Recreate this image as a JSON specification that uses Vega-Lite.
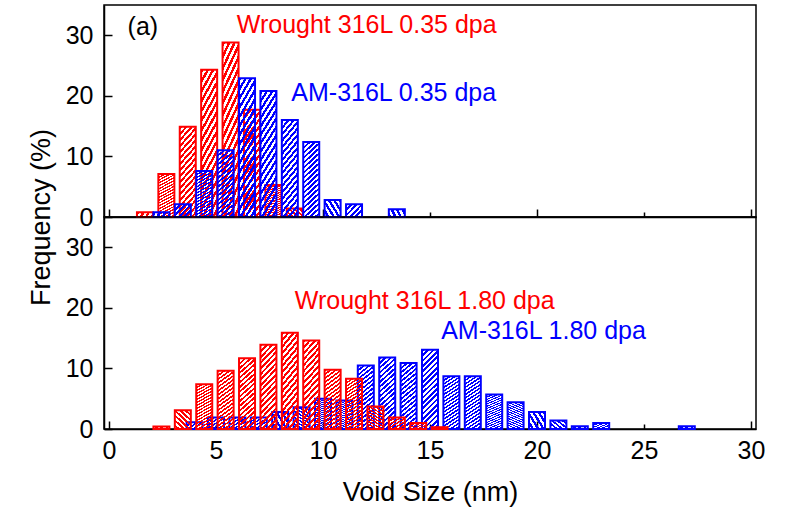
{
  "$schema": "https://vega.github.io/schema/vega-lite/v6.json",
  "padding": {"left": 26, "top": 4, "right": 0, "bottom": 5},
  "spacing": 0,
  "bounds": "flush",
  "datasets": {
    "bars": [
      {"panel": "0.35 dpa", "series": "Wrought 316L", "size": 1.68, "freq": 0.8},
      {"panel": "0.35 dpa", "series": "Wrought 316L", "size": 2.68, "freq": 7.1},
      {"panel": "0.35 dpa", "series": "Wrought 316L", "size": 3.68, "freq": 14.9},
      {"panel": "0.35 dpa", "series": "Wrought 316L", "size": 4.68, "freq": 24.3},
      {"panel": "0.35 dpa", "series": "Wrought 316L", "size": 5.68, "freq": 28.8},
      {"panel": "0.35 dpa", "series": "Wrought 316L", "size": 6.68, "freq": 17.7},
      {"panel": "0.35 dpa", "series": "Wrought 316L", "size": 7.68, "freq": 5.3},
      {"panel": "0.35 dpa", "series": "Wrought 316L", "size": 8.68, "freq": 1.4},
      {"panel": "0.35 dpa", "series": "AM-316L", "size": 2.45, "freq": 0.8},
      {"panel": "0.35 dpa", "series": "AM-316L", "size": 3.45, "freq": 2.1},
      {"panel": "0.35 dpa", "series": "AM-316L", "size": 4.45, "freq": 7.6},
      {"panel": "0.35 dpa", "series": "AM-316L", "size": 5.45, "freq": 11.0},
      {"panel": "0.35 dpa", "series": "AM-316L", "size": 6.45, "freq": 22.9},
      {"panel": "0.35 dpa", "series": "AM-316L", "size": 7.45, "freq": 20.8},
      {"panel": "0.35 dpa", "series": "AM-316L", "size": 8.45, "freq": 16.0},
      {"panel": "0.35 dpa", "series": "AM-316L", "size": 9.45, "freq": 12.4},
      {"panel": "0.35 dpa", "series": "AM-316L", "size": 10.45, "freq": 2.8},
      {"panel": "0.35 dpa", "series": "AM-316L", "size": 11.45, "freq": 2.1},
      {"panel": "0.35 dpa", "series": "AM-316L", "size": 13.45, "freq": 1.3},
      {"panel": "1.80 dpa", "series": "Wrought 316L", "size": 2.45, "freq": 0.4},
      {"panel": "1.80 dpa", "series": "Wrought 316L", "size": 3.45, "freq": 3.1},
      {"panel": "1.80 dpa", "series": "Wrought 316L", "size": 4.45, "freq": 7.4},
      {"panel": "1.80 dpa", "series": "Wrought 316L", "size": 5.45, "freq": 9.6},
      {"panel": "1.80 dpa", "series": "Wrought 316L", "size": 6.45, "freq": 11.7},
      {"panel": "1.80 dpa", "series": "Wrought 316L", "size": 7.45, "freq": 13.9},
      {"panel": "1.80 dpa", "series": "Wrought 316L", "size": 8.45, "freq": 15.9},
      {"panel": "1.80 dpa", "series": "Wrought 316L", "size": 9.45, "freq": 14.6},
      {"panel": "1.80 dpa", "series": "Wrought 316L", "size": 10.45, "freq": 9.8},
      {"panel": "1.80 dpa", "series": "Wrought 316L", "size": 11.45, "freq": 8.3},
      {"panel": "1.80 dpa", "series": "Wrought 316L", "size": 12.45, "freq": 3.7},
      {"panel": "1.80 dpa", "series": "Wrought 316L", "size": 13.45, "freq": 1.9},
      {"panel": "1.80 dpa", "series": "Wrought 316L", "size": 14.45, "freq": 1.0},
      {"panel": "1.80 dpa", "series": "Wrought 316L", "size": 15.45, "freq": 0.3},
      {"panel": "1.80 dpa", "series": "AM-316L", "size": 4, "freq": 1.1},
      {"panel": "1.80 dpa", "series": "AM-316L", "size": 5, "freq": 1.9},
      {"panel": "1.80 dpa", "series": "AM-316L", "size": 6, "freq": 1.9},
      {"panel": "1.80 dpa", "series": "AM-316L", "size": 7, "freq": 1.9},
      {"panel": "1.80 dpa", "series": "AM-316L", "size": 8, "freq": 2.8},
      {"panel": "1.80 dpa", "series": "AM-316L", "size": 9, "freq": 3.6},
      {"panel": "1.80 dpa", "series": "AM-316L", "size": 10, "freq": 5.0},
      {"panel": "1.80 dpa", "series": "AM-316L", "size": 11, "freq": 4.7},
      {"panel": "1.80 dpa", "series": "AM-316L", "size": 12, "freq": 10.5},
      {"panel": "1.80 dpa", "series": "AM-316L", "size": 13, "freq": 11.8},
      {"panel": "1.80 dpa", "series": "AM-316L", "size": 14, "freq": 10.9},
      {"panel": "1.80 dpa", "series": "AM-316L", "size": 15, "freq": 13.1},
      {"panel": "1.80 dpa", "series": "AM-316L", "size": 16, "freq": 8.7},
      {"panel": "1.80 dpa", "series": "AM-316L", "size": 17, "freq": 8.7},
      {"panel": "1.80 dpa", "series": "AM-316L", "size": 18, "freq": 5.7},
      {"panel": "1.80 dpa", "series": "AM-316L", "size": 19, "freq": 4.4},
      {"panel": "1.80 dpa", "series": "AM-316L", "size": 20, "freq": 2.8},
      {"panel": "1.80 dpa", "series": "AM-316L", "size": 21, "freq": 1.4},
      {"panel": "1.80 dpa", "series": "AM-316L", "size": 22, "freq": 0.45},
      {"panel": "1.80 dpa", "series": "AM-316L", "size": 23, "freq": 1.0},
      {"panel": "1.80 dpa", "series": "AM-316L", "size": 27, "freq": 0.45}
    ]
  },
  "config": {
    "font": "Liberation Sans",
    "view": {"stroke": "#000000", "strokeWidth": 1.5},
    "axis": {
      "grid": false,
      "domainColor": "#000000",
      "domainWidth": 1.5,
      "tickColor": "#000000",
      "tickWidth": 1.5,
      "labelColor": "#000000",
      "labelFont": "Liberation Sans",
      "labelFontSize": 25,
      "titleFont": "Liberation Sans",
      "titleFontSize": 27,
      "titleFontWeight": "normal",
      "titleColor": "#000000",
      "labelOverlap": false
    }
  },
  "vconcat": [
    {
      "width": 652,
      "height": 212,
      "layer": [
        {
          "data": {"name": "bars"},
          "transform": [{"filter": "datum.panel === '0.35 dpa' && datum.series === 'Wrought 316L'"}],
          "mark": {
            "type": "bar", "orient": "vertical", "width": 16, "stroke": "#ff0000", "strokeWidth": 2,
            "fill": {"gradient": "linear", "x1": 0, "y1": 0, "x2": 0.2308, "y2": 1.1538, "stops": [
              {"offset": 0, "color": "#ff0000"}, {"offset": 0.0278, "color": "#ff0000"}, {"offset": 0.0278, "color": "rgba(255,0,0,0)"}, {"offset": 0.0556, "color": "rgba(255,0,0,0)"},
              {"offset": 0.0556, "color": "#ff0000"}, {"offset": 0.0833, "color": "#ff0000"}, {"offset": 0.0833, "color": "rgba(255,0,0,0)"}, {"offset": 0.1111, "color": "rgba(255,0,0,0)"},
              {"offset": 0.1111, "color": "#ff0000"}, {"offset": 0.1389, "color": "#ff0000"}, {"offset": 0.1389, "color": "rgba(255,0,0,0)"}, {"offset": 0.1667, "color": "rgba(255,0,0,0)"},
              {"offset": 0.1667, "color": "#ff0000"}, {"offset": 0.1944, "color": "#ff0000"}, {"offset": 0.1944, "color": "rgba(255,0,0,0)"}, {"offset": 0.2222, "color": "rgba(255,0,0,0)"},
              {"offset": 0.2222, "color": "#ff0000"}, {"offset": 0.25, "color": "#ff0000"}, {"offset": 0.25, "color": "rgba(255,0,0,0)"}, {"offset": 0.2778, "color": "rgba(255,0,0,0)"},
              {"offset": 0.2778, "color": "#ff0000"}, {"offset": 0.3056, "color": "#ff0000"}, {"offset": 0.3056, "color": "rgba(255,0,0,0)"}, {"offset": 0.3333, "color": "rgba(255,0,0,0)"},
              {"offset": 0.3333, "color": "#ff0000"}, {"offset": 0.3611, "color": "#ff0000"}, {"offset": 0.3611, "color": "rgba(255,0,0,0)"}, {"offset": 0.3889, "color": "rgba(255,0,0,0)"},
              {"offset": 0.3889, "color": "#ff0000"}, {"offset": 0.4167, "color": "#ff0000"}, {"offset": 0.4167, "color": "rgba(255,0,0,0)"}, {"offset": 0.4444, "color": "rgba(255,0,0,0)"},
              {"offset": 0.4444, "color": "#ff0000"}, {"offset": 0.4722, "color": "#ff0000"}, {"offset": 0.4722, "color": "rgba(255,0,0,0)"}, {"offset": 0.5, "color": "rgba(255,0,0,0)"},
              {"offset": 0.5, "color": "#ff0000"}, {"offset": 0.5278, "color": "#ff0000"}, {"offset": 0.5278, "color": "rgba(255,0,0,0)"}, {"offset": 0.5556, "color": "rgba(255,0,0,0)"},
              {"offset": 0.5556, "color": "#ff0000"}, {"offset": 0.5833, "color": "#ff0000"}, {"offset": 0.5833, "color": "rgba(255,0,0,0)"}, {"offset": 0.6111, "color": "rgba(255,0,0,0)"},
              {"offset": 0.6111, "color": "#ff0000"}, {"offset": 0.6389, "color": "#ff0000"}, {"offset": 0.6389, "color": "rgba(255,0,0,0)"}, {"offset": 0.6667, "color": "rgba(255,0,0,0)"},
              {"offset": 0.6667, "color": "#ff0000"}, {"offset": 0.6944, "color": "#ff0000"}, {"offset": 0.6944, "color": "rgba(255,0,0,0)"}, {"offset": 0.7222, "color": "rgba(255,0,0,0)"},
              {"offset": 0.7222, "color": "#ff0000"}, {"offset": 0.75, "color": "#ff0000"}, {"offset": 0.75, "color": "rgba(255,0,0,0)"}, {"offset": 0.7778, "color": "rgba(255,0,0,0)"},
              {"offset": 0.7778, "color": "#ff0000"}, {"offset": 0.8056, "color": "#ff0000"}, {"offset": 0.8056, "color": "rgba(255,0,0,0)"}, {"offset": 0.8333, "color": "rgba(255,0,0,0)"},
              {"offset": 0.8333, "color": "#ff0000"}, {"offset": 0.8611, "color": "#ff0000"}, {"offset": 0.8611, "color": "rgba(255,0,0,0)"}, {"offset": 0.8889, "color": "rgba(255,0,0,0)"},
              {"offset": 0.8889, "color": "#ff0000"}, {"offset": 0.9167, "color": "#ff0000"}, {"offset": 0.9167, "color": "rgba(255,0,0,0)"}, {"offset": 0.9444, "color": "rgba(255,0,0,0)"},
              {"offset": 0.9444, "color": "#ff0000"}, {"offset": 0.9722, "color": "#ff0000"}, {"offset": 0.9722, "color": "rgba(255,0,0,0)"}, {"offset": 1, "color": "rgba(255,0,0,0)"}
            ]}
          },
          "encoding": {
            "x": {"field": "size", "type": "quantitative", "scale": {"domain": [0, 30], "nice": false},
              "axis": {"values": [0, 5, 10, 15, 20, 25, 30], "labels": false, "title": null,
                "tickSize": {"condition": {"test": "datum.value % 10 === 0", "value": -8}, "value": -5}}},
            "y": {"field": "freq", "type": "quantitative", "stack": null, "scale": {"domain": [0, 35], "nice": false},
              "axis": {"values": [0, 5, 10, 15, 20, 25, 30], "labelExpr": "datum.value % 10 === 0 ? datum.label : ''",
                "tickSize": {"condition": {"test": "datum.value % 10 === 0", "value": -8}, "value": -5},
                "labelPadding": 19, "title": "Frequency (%)", "titleX": -63, "titleY": 212,
                "titleAlign": "center", "titleBaseline": "middle"}}
          }
        },
        {
          "data": {"name": "bars"},
          "transform": [{"filter": "datum.panel === '0.35 dpa' && datum.series === 'AM-316L'"}],
          "mark": {
            "type": "bar", "orient": "vertical", "width": 16, "stroke": "#0000ff", "strokeWidth": 2,
            "fill": {"gradient": "linear", "x1": 0, "y1": 0, "x2": 0.2308, "y2": 1.1538, "stops": [
              {"offset": 0, "color": "#0000ff"}, {"offset": 0.0278, "color": "#0000ff"}, {"offset": 0.0278, "color": "rgba(0,0,255,0)"}, {"offset": 0.0556, "color": "rgba(0,0,255,0)"},
              {"offset": 0.0556, "color": "#0000ff"}, {"offset": 0.0833, "color": "#0000ff"}, {"offset": 0.0833, "color": "rgba(0,0,255,0)"}, {"offset": 0.1111, "color": "rgba(0,0,255,0)"},
              {"offset": 0.1111, "color": "#0000ff"}, {"offset": 0.1389, "color": "#0000ff"}, {"offset": 0.1389, "color": "rgba(0,0,255,0)"}, {"offset": 0.1667, "color": "rgba(0,0,255,0)"},
              {"offset": 0.1667, "color": "#0000ff"}, {"offset": 0.1944, "color": "#0000ff"}, {"offset": 0.1944, "color": "rgba(0,0,255,0)"}, {"offset": 0.2222, "color": "rgba(0,0,255,0)"},
              {"offset": 0.2222, "color": "#0000ff"}, {"offset": 0.25, "color": "#0000ff"}, {"offset": 0.25, "color": "rgba(0,0,255,0)"}, {"offset": 0.2778, "color": "rgba(0,0,255,0)"},
              {"offset": 0.2778, "color": "#0000ff"}, {"offset": 0.3056, "color": "#0000ff"}, {"offset": 0.3056, "color": "rgba(0,0,255,0)"}, {"offset": 0.3333, "color": "rgba(0,0,255,0)"},
              {"offset": 0.3333, "color": "#0000ff"}, {"offset": 0.3611, "color": "#0000ff"}, {"offset": 0.3611, "color": "rgba(0,0,255,0)"}, {"offset": 0.3889, "color": "rgba(0,0,255,0)"},
              {"offset": 0.3889, "color": "#0000ff"}, {"offset": 0.4167, "color": "#0000ff"}, {"offset": 0.4167, "color": "rgba(0,0,255,0)"}, {"offset": 0.4444, "color": "rgba(0,0,255,0)"},
              {"offset": 0.4444, "color": "#0000ff"}, {"offset": 0.4722, "color": "#0000ff"}, {"offset": 0.4722, "color": "rgba(0,0,255,0)"}, {"offset": 0.5, "color": "rgba(0,0,255,0)"},
              {"offset": 0.5, "color": "#0000ff"}, {"offset": 0.5278, "color": "#0000ff"}, {"offset": 0.5278, "color": "rgba(0,0,255,0)"}, {"offset": 0.5556, "color": "rgba(0,0,255,0)"},
              {"offset": 0.5556, "color": "#0000ff"}, {"offset": 0.5833, "color": "#0000ff"}, {"offset": 0.5833, "color": "rgba(0,0,255,0)"}, {"offset": 0.6111, "color": "rgba(0,0,255,0)"},
              {"offset": 0.6111, "color": "#0000ff"}, {"offset": 0.6389, "color": "#0000ff"}, {"offset": 0.6389, "color": "rgba(0,0,255,0)"}, {"offset": 0.6667, "color": "rgba(0,0,255,0)"},
              {"offset": 0.6667, "color": "#0000ff"}, {"offset": 0.6944, "color": "#0000ff"}, {"offset": 0.6944, "color": "rgba(0,0,255,0)"}, {"offset": 0.7222, "color": "rgba(0,0,255,0)"},
              {"offset": 0.7222, "color": "#0000ff"}, {"offset": 0.75, "color": "#0000ff"}, {"offset": 0.75, "color": "rgba(0,0,255,0)"}, {"offset": 0.7778, "color": "rgba(0,0,255,0)"},
              {"offset": 0.7778, "color": "#0000ff"}, {"offset": 0.8056, "color": "#0000ff"}, {"offset": 0.8056, "color": "rgba(0,0,255,0)"}, {"offset": 0.8333, "color": "rgba(0,0,255,0)"},
              {"offset": 0.8333, "color": "#0000ff"}, {"offset": 0.8611, "color": "#0000ff"}, {"offset": 0.8611, "color": "rgba(0,0,255,0)"}, {"offset": 0.8889, "color": "rgba(0,0,255,0)"},
              {"offset": 0.8889, "color": "#0000ff"}, {"offset": 0.9167, "color": "#0000ff"}, {"offset": 0.9167, "color": "rgba(0,0,255,0)"}, {"offset": 0.9444, "color": "rgba(0,0,255,0)"},
              {"offset": 0.9444, "color": "#0000ff"}, {"offset": 0.9722, "color": "#0000ff"}, {"offset": 0.9722, "color": "rgba(0,0,255,0)"}, {"offset": 1, "color": "rgba(0,0,255,0)"}
            ]}
          },
          "encoding": {
            "x": {"field": "size", "type": "quantitative"},
            "y": {"field": "freq", "type": "quantitative", "stack": null}
          }
        },
        {
          "data": {"values": [{}]},
          "mark": {"type": "text", "align": "left", "baseline": "middle", "font": "Liberation Sans", "fontSize": 25, "fill": "#000000"},
          "encoding": {"x": {"datum": 0.87}, "y": {"datum": 31.4}, "text": {"value": "(a)"}}
        },
        {
          "data": {"values": [{}]},
          "mark": {"type": "text", "align": "left", "baseline": "middle", "font": "Liberation Sans", "fontSize": 25, "fill": "#ff0000"},
          "encoding": {"x": {"datum": 5.97}, "y": {"datum": 31.7}, "text": {"value": "Wrought 316L 0.35 dpa"}}
        },
        {
          "data": {"values": [{}]},
          "mark": {"type": "text", "align": "left", "baseline": "middle", "font": "Liberation Sans", "fontSize": 25, "fill": "#0000ff"},
          "encoding": {"x": {"datum": 8.52}, "y": {"datum": 20.5}, "text": {"value": "AM-316L 0.35 dpa"}}
        }
      ]
    },
    {
      "width": 652,
      "height": 212,
      "layer": [
        {
          "data": {"name": "bars"},
          "transform": [{"filter": "datum.panel === '1.80 dpa' && datum.series === 'AM-316L'"}],
          "mark": {
            "type": "bar", "orient": "vertical", "width": 16, "stroke": "#0000ff", "strokeWidth": 2,
            "fill": {"gradient": "linear", "x1": 0, "y1": 0, "x2": 0.2308, "y2": 1.1538, "stops": [
              {"offset": 0, "color": "#0000ff"}, {"offset": 0.0278, "color": "#0000ff"}, {"offset": 0.0278, "color": "rgba(0,0,255,0)"}, {"offset": 0.0556, "color": "rgba(0,0,255,0)"},
              {"offset": 0.0556, "color": "#0000ff"}, {"offset": 0.0833, "color": "#0000ff"}, {"offset": 0.0833, "color": "rgba(0,0,255,0)"}, {"offset": 0.1111, "color": "rgba(0,0,255,0)"},
              {"offset": 0.1111, "color": "#0000ff"}, {"offset": 0.1389, "color": "#0000ff"}, {"offset": 0.1389, "color": "rgba(0,0,255,0)"}, {"offset": 0.1667, "color": "rgba(0,0,255,0)"},
              {"offset": 0.1667, "color": "#0000ff"}, {"offset": 0.1944, "color": "#0000ff"}, {"offset": 0.1944, "color": "rgba(0,0,255,0)"}, {"offset": 0.2222, "color": "rgba(0,0,255,0)"},
              {"offset": 0.2222, "color": "#0000ff"}, {"offset": 0.25, "color": "#0000ff"}, {"offset": 0.25, "color": "rgba(0,0,255,0)"}, {"offset": 0.2778, "color": "rgba(0,0,255,0)"},
              {"offset": 0.2778, "color": "#0000ff"}, {"offset": 0.3056, "color": "#0000ff"}, {"offset": 0.3056, "color": "rgba(0,0,255,0)"}, {"offset": 0.3333, "color": "rgba(0,0,255,0)"},
              {"offset": 0.3333, "color": "#0000ff"}, {"offset": 0.3611, "color": "#0000ff"}, {"offset": 0.3611, "color": "rgba(0,0,255,0)"}, {"offset": 0.3889, "color": "rgba(0,0,255,0)"},
              {"offset": 0.3889, "color": "#0000ff"}, {"offset": 0.4167, "color": "#0000ff"}, {"offset": 0.4167, "color": "rgba(0,0,255,0)"}, {"offset": 0.4444, "color": "rgba(0,0,255,0)"},
              {"offset": 0.4444, "color": "#0000ff"}, {"offset": 0.4722, "color": "#0000ff"}, {"offset": 0.4722, "color": "rgba(0,0,255,0)"}, {"offset": 0.5, "color": "rgba(0,0,255,0)"},
              {"offset": 0.5, "color": "#0000ff"}, {"offset": 0.5278, "color": "#0000ff"}, {"offset": 0.5278, "color": "rgba(0,0,255,0)"}, {"offset": 0.5556, "color": "rgba(0,0,255,0)"},
              {"offset": 0.5556, "color": "#0000ff"}, {"offset": 0.5833, "color": "#0000ff"}, {"offset": 0.5833, "color": "rgba(0,0,255,0)"}, {"offset": 0.6111, "color": "rgba(0,0,255,0)"},
              {"offset": 0.6111, "color": "#0000ff"}, {"offset": 0.6389, "color": "#0000ff"}, {"offset": 0.6389, "color": "rgba(0,0,255,0)"}, {"offset": 0.6667, "color": "rgba(0,0,255,0)"},
              {"offset": 0.6667, "color": "#0000ff"}, {"offset": 0.6944, "color": "#0000ff"}, {"offset": 0.6944, "color": "rgba(0,0,255,0)"}, {"offset": 0.7222, "color": "rgba(0,0,255,0)"},
              {"offset": 0.7222, "color": "#0000ff"}, {"offset": 0.75, "color": "#0000ff"}, {"offset": 0.75, "color": "rgba(0,0,255,0)"}, {"offset": 0.7778, "color": "rgba(0,0,255,0)"},
              {"offset": 0.7778, "color": "#0000ff"}, {"offset": 0.8056, "color": "#0000ff"}, {"offset": 0.8056, "color": "rgba(0,0,255,0)"}, {"offset": 0.8333, "color": "rgba(0,0,255,0)"},
              {"offset": 0.8333, "color": "#0000ff"}, {"offset": 0.8611, "color": "#0000ff"}, {"offset": 0.8611, "color": "rgba(0,0,255,0)"}, {"offset": 0.8889, "color": "rgba(0,0,255,0)"},
              {"offset": 0.8889, "color": "#0000ff"}, {"offset": 0.9167, "color": "#0000ff"}, {"offset": 0.9167, "color": "rgba(0,0,255,0)"}, {"offset": 0.9444, "color": "rgba(0,0,255,0)"},
              {"offset": 0.9444, "color": "#0000ff"}, {"offset": 0.9722, "color": "#0000ff"}, {"offset": 0.9722, "color": "rgba(0,0,255,0)"}, {"offset": 1, "color": "rgba(0,0,255,0)"}
            ]}
          },
          "encoding": {
            "x": {"field": "size", "type": "quantitative", "scale": {"domain": [0, 30], "nice": false},
              "axis": {"values": [0, 5, 10, 15, 20, 25, 30], "title": "Void Size (nm)", "labelFlush": false,
                "tickSize": {"condition": {"test": "datum.value % 10 === 0", "value": -8}, "value": -5},
                "labelPadding": {"condition": {"test": "datum.value % 10 === 0", "value": 17}, "value": 14},
                "titleY": 63, "titleBaseline": "middle"}},
            "y": {"field": "freq", "type": "quantitative", "stack": null, "scale": {"domain": [0, 35], "nice": false},
              "axis": {"values": [0, 5, 10, 15, 20, 25, 30], "labelExpr": "datum.value % 10 === 0 ? datum.label : ''",
                "tickSize": {"condition": {"test": "datum.value % 10 === 0", "value": -8}, "value": -5},
                "labelPadding": 19, "title": null}}
          }
        },
        {
          "data": {"name": "bars"},
          "transform": [{"filter": "datum.panel === '1.80 dpa' && datum.series === 'Wrought 316L'"}],
          "mark": {
            "type": "bar", "orient": "vertical", "width": 16, "stroke": "#ff0000", "strokeWidth": 2,
            "fill": {"gradient": "linear", "x1": 0, "y1": 0, "x2": 0.2308, "y2": 1.1538, "stops": [
              {"offset": 0, "color": "#ff0000"}, {"offset": 0.0278, "color": "#ff0000"}, {"offset": 0.0278, "color": "rgba(255,0,0,0)"}, {"offset": 0.0556, "color": "rgba(255,0,0,0)"},
              {"offset": 0.0556, "color": "#ff0000"}, {"offset": 0.0833, "color": "#ff0000"}, {"offset": 0.0833, "color": "rgba(255,0,0,0)"}, {"offset": 0.1111, "color": "rgba(255,0,0,0)"},
              {"offset": 0.1111, "color": "#ff0000"}, {"offset": 0.1389, "color": "#ff0000"}, {"offset": 0.1389, "color": "rgba(255,0,0,0)"}, {"offset": 0.1667, "color": "rgba(255,0,0,0)"},
              {"offset": 0.1667, "color": "#ff0000"}, {"offset": 0.1944, "color": "#ff0000"}, {"offset": 0.1944, "color": "rgba(255,0,0,0)"}, {"offset": 0.2222, "color": "rgba(255,0,0,0)"},
              {"offset": 0.2222, "color": "#ff0000"}, {"offset": 0.25, "color": "#ff0000"}, {"offset": 0.25, "color": "rgba(255,0,0,0)"}, {"offset": 0.2778, "color": "rgba(255,0,0,0)"},
              {"offset": 0.2778, "color": "#ff0000"}, {"offset": 0.3056, "color": "#ff0000"}, {"offset": 0.3056, "color": "rgba(255,0,0,0)"}, {"offset": 0.3333, "color": "rgba(255,0,0,0)"},
              {"offset": 0.3333, "color": "#ff0000"}, {"offset": 0.3611, "color": "#ff0000"}, {"offset": 0.3611, "color": "rgba(255,0,0,0)"}, {"offset": 0.3889, "color": "rgba(255,0,0,0)"},
              {"offset": 0.3889, "color": "#ff0000"}, {"offset": 0.4167, "color": "#ff0000"}, {"offset": 0.4167, "color": "rgba(255,0,0,0)"}, {"offset": 0.4444, "color": "rgba(255,0,0,0)"},
              {"offset": 0.4444, "color": "#ff0000"}, {"offset": 0.4722, "color": "#ff0000"}, {"offset": 0.4722, "color": "rgba(255,0,0,0)"}, {"offset": 0.5, "color": "rgba(255,0,0,0)"},
              {"offset": 0.5, "color": "#ff0000"}, {"offset": 0.5278, "color": "#ff0000"}, {"offset": 0.5278, "color": "rgba(255,0,0,0)"}, {"offset": 0.5556, "color": "rgba(255,0,0,0)"},
              {"offset": 0.5556, "color": "#ff0000"}, {"offset": 0.5833, "color": "#ff0000"}, {"offset": 0.5833, "color": "rgba(255,0,0,0)"}, {"offset": 0.6111, "color": "rgba(255,0,0,0)"},
              {"offset": 0.6111, "color": "#ff0000"}, {"offset": 0.6389, "color": "#ff0000"}, {"offset": 0.6389, "color": "rgba(255,0,0,0)"}, {"offset": 0.6667, "color": "rgba(255,0,0,0)"},
              {"offset": 0.6667, "color": "#ff0000"}, {"offset": 0.6944, "color": "#ff0000"}, {"offset": 0.6944, "color": "rgba(255,0,0,0)"}, {"offset": 0.7222, "color": "rgba(255,0,0,0)"},
              {"offset": 0.7222, "color": "#ff0000"}, {"offset": 0.75, "color": "#ff0000"}, {"offset": 0.75, "color": "rgba(255,0,0,0)"}, {"offset": 0.7778, "color": "rgba(255,0,0,0)"},
              {"offset": 0.7778, "color": "#ff0000"}, {"offset": 0.8056, "color": "#ff0000"}, {"offset": 0.8056, "color": "rgba(255,0,0,0)"}, {"offset": 0.8333, "color": "rgba(255,0,0,0)"},
              {"offset": 0.8333, "color": "#ff0000"}, {"offset": 0.8611, "color": "#ff0000"}, {"offset": 0.8611, "color": "rgba(255,0,0,0)"}, {"offset": 0.8889, "color": "rgba(255,0,0,0)"},
              {"offset": 0.8889, "color": "#ff0000"}, {"offset": 0.9167, "color": "#ff0000"}, {"offset": 0.9167, "color": "rgba(255,0,0,0)"}, {"offset": 0.9444, "color": "rgba(255,0,0,0)"},
              {"offset": 0.9444, "color": "#ff0000"}, {"offset": 0.9722, "color": "#ff0000"}, {"offset": 0.9722, "color": "rgba(255,0,0,0)"}, {"offset": 1, "color": "rgba(255,0,0,0)"}
            ]}
          },
          "encoding": {
            "x": {"field": "size", "type": "quantitative"},
            "y": {"field": "freq", "type": "quantitative", "stack": null}
          }
        },
        {
          "data": {"values": [{}]},
          "mark": {"type": "text", "align": "left", "baseline": "middle", "font": "Liberation Sans", "fontSize": 25, "fill": "#ff0000"},
          "encoding": {"x": {"datum": 8.68}, "y": {"datum": 21.1}, "text": {"value": "Wrought 316L 1.80 dpa"}}
        },
        {
          "data": {"values": [{}]},
          "mark": {"type": "text", "align": "left", "baseline": "middle", "font": "Liberation Sans", "fontSize": 25, "fill": "#0000ff"},
          "encoding": {"x": {"datum": 15.52}, "y": {"datum": 16.1}, "text": {"value": "AM-316L 1.80 dpa"}}
        }
      ]
    }
  ]
}
